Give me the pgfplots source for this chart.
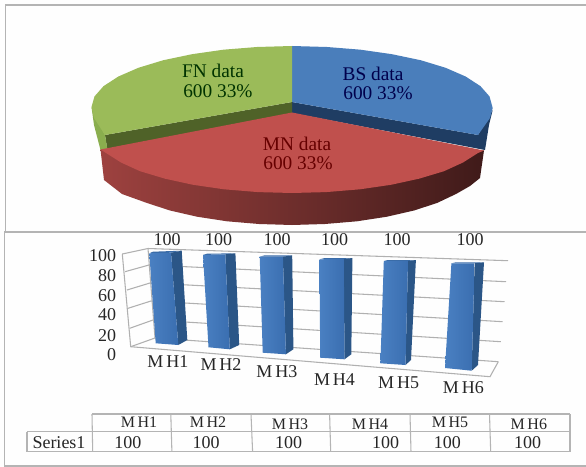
\documentclass[border=0pt]{standalone}
\usepackage{pgfplots}
\usepackage{fontspec}
\setmainfont{Liberation Serif}
\pgfplotsset{compat=1.18}
\definecolor{frame}{HTML}{B4B4B4}
\definecolor{gridc}{HTML}{B0B0B0}
\definecolor{bgc}{HTML}{FEFEFE}
\definecolor{bluetop}{HTML}{4A7EBB}
\definecolor{bluedark}{HTML}{1F3D63}
\definecolor{greentop}{HTML}{9BBB59}
\definecolor{greendark}{HTML}{4F6228}
\definecolor{greenside}{HTML}{8AAE4E}
\definecolor{redtop}{HTML}{C0504D}
\definecolor{barfl}{HTML}{4A80C2}
\definecolor{barfr}{HTML}{3A6EB0}
\definecolor{barside}{HTML}{2B5687}
\definecolor{bartop}{HTML}{3A6CA8}
\newcommand{\poly}[2]{\addplot[fill=#1,draw=none] coordinates {#2} --cycle;}
\newcommand{\barf}[1]{\addplot[draw=none,left color=barfl,right color=barfr] coordinates {#1} --cycle;}
\newcommand{\seg}[2][gridc]{\addplot[#1,line width=0.8pt] coordinates {#2};}
\begin{document}
\begin{tikzpicture}
\begin{axis}[scale only axis,width=439.5pt,height=350.25pt,xmin=0,xmax=586,ymin=0,ymax=467,y dir=reverse,axis lines=none,xtick=\empty,ytick=\empty,clip=true]
\poly{bgc}{(0,0) (586,0) (586,467) (0,467)}
% frames
\addplot[frame,line width=1.2pt] coordinates {(590,5) (5.5,5) (5.5,231)};
\addplot[frame,line width=1.2pt] coordinates {(590,231.7) (4.5,231.7) (4.5,466) (590,466)};
% pie: side faces
\poly{bluedark}{(292,102) (478,135) (492.7,110) (489,125) (485,150) (292,113)}
\poly{greendark}{(292,102) (105,135) (107.5,151) (292,113)}
\poly{greenside}{(91.5,107) (105,135) (107.5,150) (100.5,150) (94,125)}
\addplot[draw=none,left color=redtop!82!black,middle color=redtop!58!black,right color=redtop!33!black] coordinates {(100.5,149.5) (104,180) (122,194) (147,203) (170,210.5) (197,216.7) (227,221.3) (259,224) (292,225) (325,224) (357,221.3) (387,216.7) (414,210.5) (437,203) (456,194) (470,186) (480,178) (484,150.5)} --cycle;
% pie: top faces
\poly{bluetop}{(292,46) (327,47) (360.6,49.7) (392,54.2) (421,60.3) (445.6,67.8) (465.6,76.5) (480.4,86.1) (489.5,96.4) (492.7,108) (490,118) (478,135) (292,102)}
\poly{greentop}{(292,46) (257,47) (223.4,49.7) (192,54.2) (163,60.3) (138.4,67.8) (118.4,76.5) (103.6,86.1) (94.5,96.4) (91.5,107) (94,118) (105,135) (292,102)}
\poly{redtop}{(292,112.5) (484,150.5) (478,153) (463,162.5) (444,171.2) (419,178.7) (391,184.8) (360,189.3) (326,192.1) (292,193) (258,192.1) (224,189.3) (193,184.8) (165,178.7) (140,171.2) (121,162.5) (106,153) (100.5,149.5)}
% pie labels
\begin{scope}[every node/.style={font=\fontsize{14.5pt}{16pt}\selectfont}]
\node[text=green!20!black] at (axis cs:213,70.7) {FN data};
\node[text=green!20!black] at (axis cs:217.9,90.7) {600 33\%};
\node[text=blue!30!black] at (axis cs:373,74) {BS data};
\node[text=blue!30!black] at (axis cs:378,93) {600 33\%};
\node[text=red!40!black] at (axis cs:297,144) {MN data};
\node[text=red!40!black] at (axis cs:298,163) {600 33\%};
\end{scope}
% 3D grid
\seg{(122.3,254) (148,248.5) (508,260.7)}
\seg{(125,271.7) (149,265) (506,281.7)}
\seg{(127,290) (150,283) (504.5,301.7)}
\seg{(128,308.3) (151,301) (502.6,321.7)}
\seg{(129.7,328.3) (153,320) (500.8,341.7)}
\seg{(130.7,346.7) (155,338) (498.3,361.7)}
\seg{(122.3,254) (130.7,346.7) (490,376.7) (498.3,361.7)}
\seg{(148,248.5) (155,338)}
% bars (value 100 each)
\poly{bartop}{(149.3,253.3) (153,251.7) (181.7,250.7) (171,252.7)}
\poly{barside}{(171,252.7) (181.7,250.7) (187.3,340) (178.3,345)}
\barf{(149.3,253.3) (171,252.7) (178.3,345) (155.7,343.3)}
\poly{bartop}{(203,255) (207,253.7) (235.4,253.3) (225.3,254.3)}
\poly{barside}{(225.3,254.3) (235.4,253.3) (239.2,345) (229.8,349.3)}
\barf{(203,255) (225.3,254.3) (229.8,349.3) (208.5,347.3)}
\poly{bartop}{(259.7,256.7) (264,255.5) (292.2,255.3) (282.9,256.7)}
\poly{barside}{(282.9,256.7) (292.2,255.3) (293.4,349.3) (285.9,354.3)}
\barf{(259.7,256.7) (282.9,256.7) (285.9,354.3) (262.7,352.7)}
\poly{bartop}{(319.5,259.3) (324,258.2) (352.4,258) (343.8,259)}
\poly{barside}{(343.8,259) (352.4,258) (351.3,354.3) (344.5,359.3)}
\barf{(319.5,259.3) (343.8,259) (344.5,359.3) (320.2,357.7)}
\poly{bartop}{(383.8,261) (388,260) (415.9,260) (408,261)}
\poly{barside}{(408,261) (415.9,260) (411,360) (405.5,365)}
\barf{(383.8,261) (408,261) (405.5,365) (380.4,363.3)}
\poly{bartop}{(451.4,263.3) (456,262.3) (484,262.3) (474.6,263.3)}
\poly{barside}{(474.6,263.3) (484,262.3) (478,365) (471.7,370.7)}
\barf{(451.4,263.3) (474.6,263.3) (471.7,370.7) (445,368)}
\begin{scope}[every node/.style={font=\fontsize{13.5pt}{15pt}\selectfont,text=black!85}]
\node at (axis cs:167,240) {100};
\node at (axis cs:218.6,240) {100};
\node at (axis cs:277,240) {100};
\node at (axis cs:334.5,240) {100};
\node at (axis cs:397,240) {100};
\node at (axis cs:470,240) {100};
\node[anchor=east,inner sep=0pt] at (axis cs:116.5,256) {100};
\node[anchor=east,inner sep=0pt] at (axis cs:116.5,276) {80};
\node[anchor=east,inner sep=0pt] at (axis cs:116.5,295.3) {60};
\node[anchor=east,inner sep=0pt] at (axis cs:116.5,315) {40};
\node[anchor=east,inner sep=0pt] at (axis cs:116.5,335.7) {20};
\node[anchor=east,inner sep=0pt] at (axis cs:116.5,355) {0};
\node at (axis cs:168,361.7) {M\,H1};
\node at (axis cs:221,365) {M\,H2};
\node at (axis cs:277,371.7) {M\,H3};
\node at (axis cs:334.5,379.3) {M\,H4};
\node at (axis cs:398.7,382.7) {M\,H5};
\node at (axis cs:463.3,387.7) {M\,H6};
\end{scope}
% data table
\seg[frame,line width=1.1pt]{(92,414) (570,414)}
\seg[frame,line width=1.1pt]{(27,431.7) (570,431.7)}
\seg[frame,line width=1.1pt]{(27,451.7) (570,451.7)}
\seg[frame,line width=1.1pt]{(27,431.7) (27,451.7)}
\seg[frame,line width=1.1pt]{(92,414) (92.7,451.7)}
\seg[frame,line width=1.1pt]{(170.8,414) (171.9,451.7)}
\seg[frame,line width=1.1pt]{(251,414) (252.6,451.7)}
\seg[frame,line width=1.1pt]{(329.6,414) (330.7,451.7)}
\seg[frame,line width=1.1pt]{(410,414) (411,451.7)}
\seg[frame,line width=1.1pt]{(489.5,414) (490.7,451.7)}
\seg[frame,line width=1.1pt]{(570,414) (570,451.7)}
\begin{scope}[every node/.style={font=\fontsize{12pt}{14pt}\selectfont,text=black!85}]
\node at (axis cs:139,422.7) {M\,H1};
\node at (axis cs:208,422.7) {M\,H2};
\node at (axis cs:290,424) {M\,H3};
\node at (axis cs:370,424) {M\,H4};
\node at (axis cs:450,422.7) {M\,H5};
\node at (axis cs:528.8,424) {M\,H6};
\end{scope}
\begin{scope}[every node/.style={font=\fontsize{13.5pt}{15pt}\selectfont,text=black!85}]
\node at (axis cs:59,442.5) {Series1};
\node at (axis cs:127.8,442.5) {100};
\node at (axis cs:206,442.5) {100};
\node at (axis cs:288.5,442.5) {100};
\node at (axis cs:385.6,442.5) {100};
\node at (axis cs:447.3,442.5) {100};
\node at (axis cs:527.6,442.5) {100};
\end{scope}
\end{axis}
\end{tikzpicture}
\end{document}
